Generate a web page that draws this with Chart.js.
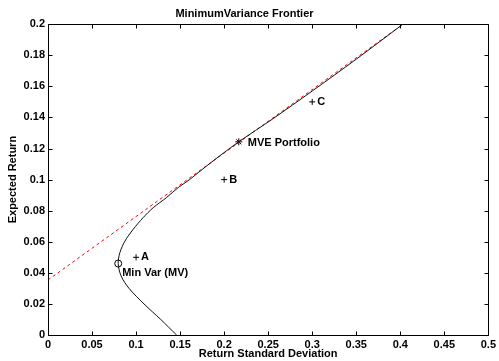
<!DOCTYPE html>
<html lang="en">
<head>
<meta charset="UTF-8">
<title>Minimum Variance Frontier</title>
<script src="https://cdn.jsdelivr.net/npm/chart.js"></script>
<style>
    body { margin: 0; background: #fff; }
    .wrap { width: 499px; height: 361px; }
</style>
</head>
<body>
<div class="wrap"><canvas id="frontier"></canvas></div>
<script>
// frontier, bottom end to top end
const frontierSigma = [0.146, 0.128, 0.109, 0.092, 0.083, 0.0797, 0.0816, 0.0873, 0.0967, 0.108, 0.1194, 0.1345, 0.1477, 0.161, 0.1704, 0.1897, 0.2166, 0.255, 0.300, 0.350, 0.403];
const frontierMu    = [0, 0.010, 0.020, 0.030, 0.038, 0.046, 0.053, 0.0604, 0.068, 0.0755, 0.0819, 0.0884, 0.0948, 0.1001, 0.1044, 0.113, 0.1243, 0.139, 0.157, 0.1775, 0.2];

// tangent (capital market) line
const tangentSigma = [0, 0.403];
const tangentMu    = [0.0354, 0.2];

// individual assets
const assetNames = ['A', 'B', 'C'];
const assetSigma = [0.1, 0.2, 0.3];
const assetMu    = [0.05, 0.1, 0.15];

// special portfolios
const mveSigma = [0.2166];
const mveMu    = [0.1243];
const mvSigma  = [0.0797];
const mvMu     = [0.046];

const xTicks = [0, 0.05, 0.1, 0.15, 0.2, 0.25, 0.3, 0.35, 0.4, 0.45, 0.5];
const yTicks = [0, 0.02, 0.04, 0.06, 0.08, 0.1, 0.12, 0.14, 0.16, 0.18, 0.2];

const toPoints = (xs, ys) => xs.map((x, i) => ({ x: x, y: ys[i] }));
const fmt = v => String(+Number(v).toFixed(2));

Chart.defaults.font.family = '"Liberation Sans", Arial, Helvetica, sans-serif';
Chart.defaults.font.size = 11;
Chart.defaults.font.weight = 'bold';
Chart.defaults.color = '#000';

// box with inward tick marks, matlab style
const framePlugin = {
    id: 'frame',
    afterDraw(chart) {
        const c = chart.ctx, a = chart.chartArea;
        const xs = chart.scales.x, ys = chart.scales.y;
        const L = Math.round(a.left) + 0.5, R = Math.round(a.right) + 0.5;
        const T = Math.round(a.top) + 0.5, B = Math.round(a.bottom) + 0.5;
        c.save();
        c.strokeStyle = '#000';
        c.lineWidth = 1;
        c.beginPath();
        c.rect(L, T, R - L, B - T);
        xTicks.forEach(v => {
            const px = Math.round(xs.getPixelForValue(v)) + 0.5;
            c.moveTo(px, B); c.lineTo(px, B - 4);
            c.moveTo(px, T); c.lineTo(px, T + 4);
        });
        yTicks.forEach(v => {
            const py = Math.round(ys.getPixelForValue(v)) + 0.5;
            c.moveTo(L, py); c.lineTo(L + 4, py);
            c.moveTo(R, py); c.lineTo(R - 4, py);
        });
        c.stroke();
        c.restore();
    }
};

// text next to the marked points
const labelPlugin = {
    id: 'pointText',
    afterDatasetsDraw(chart) {
        const c = chart.ctx;
        c.save();
        c.fillStyle = '#000';
        c.font = 'bold 11px "Liberation Sans", Arial, sans-serif';
        c.textBaseline = 'middle';
        chart.data.datasets.forEach((ds, i) => {
            if (!ds.pointText) return;
            chart.getDatasetMeta(i).data.forEach((el, j) => {
                c.fillText(ds.pointText[j], el.x + ds.textDx, el.y + ds.textDy);
            });
        });
        c.restore();
    }
};

new Chart(document.getElementById('frontier'), {
    type: 'scatter',
    data: {
        datasets: [
            {
                data: toPoints(frontierSigma, frontierMu),
                showLine: true, tension: 0.3,
                borderColor: '#111', borderWidth: 1, pointRadius: 0
            },
            {
                data: toPoints(tangentSigma, tangentMu),
                showLine: true,
                borderColor: '#ff0000', borderWidth: 1, borderDash: [3, 3], pointRadius: 0
            },
            {
                data: toPoints(assetSigma, assetMu),
                pointStyle: 'cross', pointRadius: 3, borderColor: '#000', borderWidth: 1,
                pointText: assetNames, textDx: 5, textDy: 0
            },
            {
                data: toPoints(mveSigma, mveMu),
                pointStyle: 'star', pointRadius: 3.5, borderColor: '#000', borderWidth: 1,
                pointText: ['MVE Portfolio'], textDx: 9, textDy: 1
            },
            {
                data: toPoints(mvSigma, mvMu),
                pointStyle: 'circle', pointRadius: 3.5, borderColor: '#000', borderWidth: 1,
                backgroundColor: 'rgba(0,0,0,0)',
                pointText: ['Min Var (MV)'], textDx: 4, textDy: 9
            }
        ]
    },
    options: {
        responsive: true,
        maintainAspectRatio: false,
        animation: false,
        events: [],
        layout: { padding: { left: 0, right: 10, top: 0, bottom: 0 } },
        plugins: {
            legend: { display: false },
            tooltip: { enabled: false },
            title: {
                display: true,
                text: 'MinimumVariance Frontier',
                color: '#000',
                font: { size: 11, weight: 'bold' },
                padding: { top: 7, bottom: 4 }
            }
        },
        scales: {
            x: {
                type: 'linear', min: 0, max: 0.5,
                afterBuildTicks: s => { s.ticks = xTicks.map(v => ({ value: v })); },
                afterFit: s => { s.height = 26; },
                grid: { display: false, drawTicks: false },
                border: { display: false },
                ticks: { padding: 3, callback: fmt, maxRotation: 0, autoSkip: false },
                title: { display: true, text: 'Return Standard Deviation', padding: { top: 0, bottom: 0 } }
            },
            y: {
                type: 'linear', min: 0, max: 0.2,
                afterBuildTicks: s => { s.ticks = yTicks.map(v => ({ value: v })); },
                afterFit: s => { s.width = 48; },
                grid: { display: false, drawTicks: false },
                border: { display: false },
                ticks: { padding: 3, callback: fmt, autoSkip: false },
                title: { display: true, text: 'Expected Return', padding: { top: 6, bottom: 0 } }
            }
        }
    },
    plugins: [framePlugin, labelPlugin]
});
</script>
</body>
</html>
